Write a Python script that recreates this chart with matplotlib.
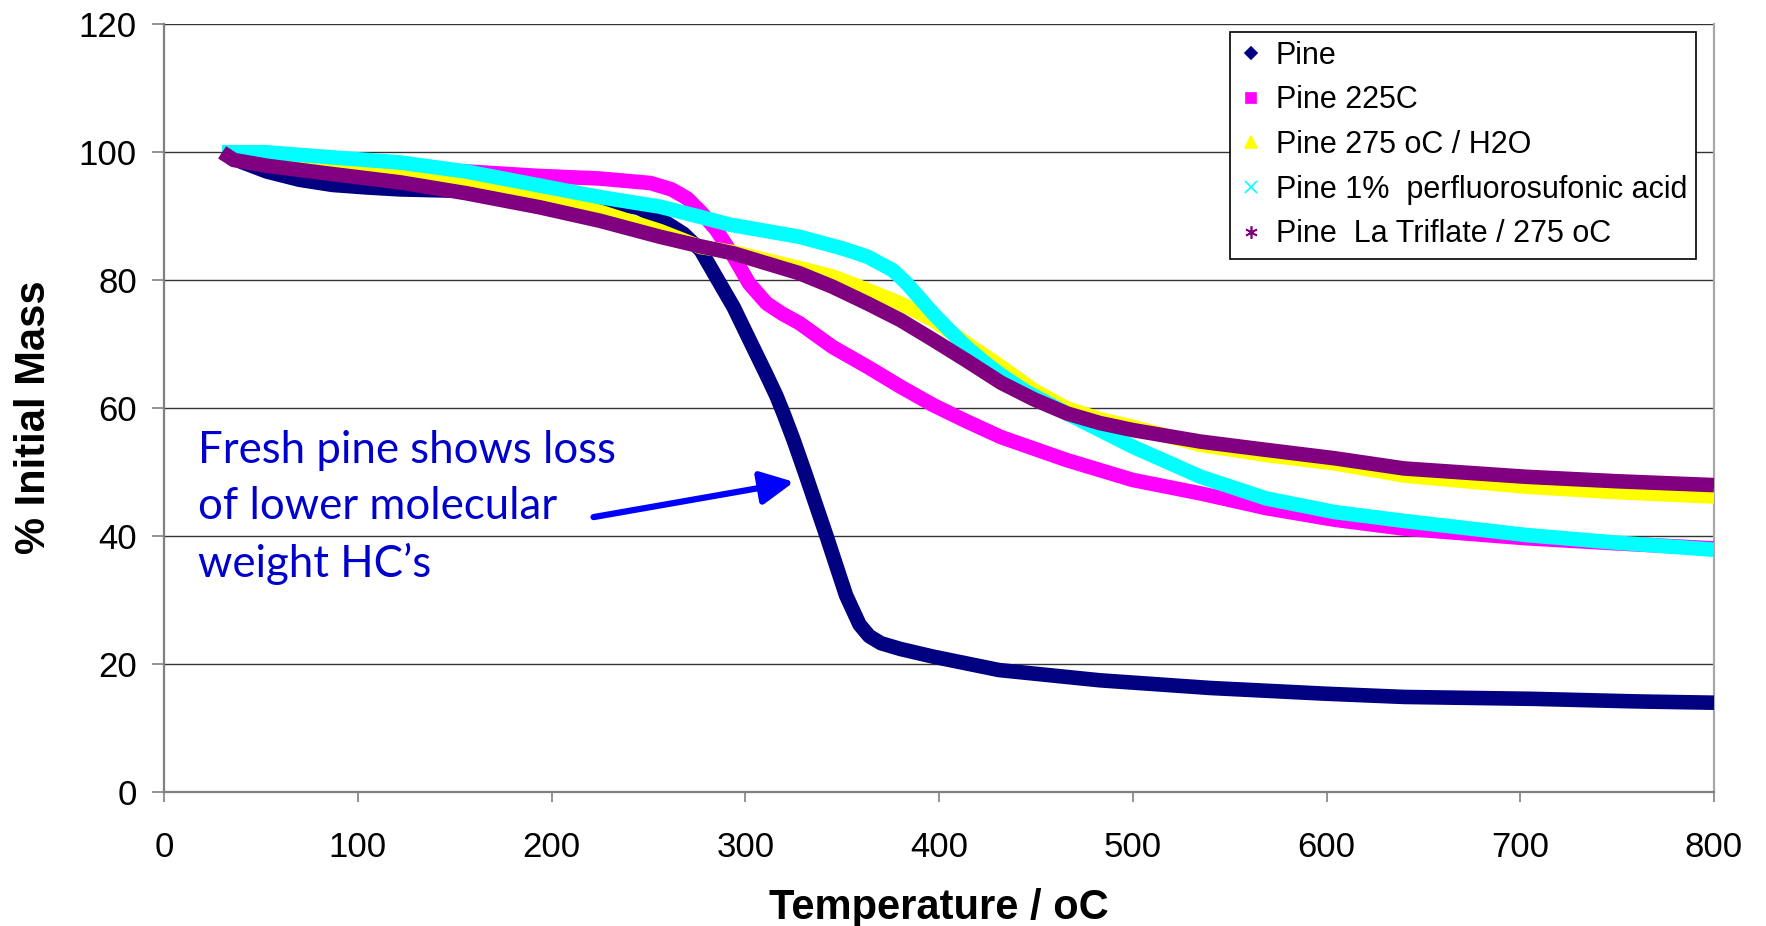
import matplotlib
matplotlib.use("Agg")
import matplotlib.pyplot as plt
from matplotlib.lines import Line2D

plt.rcParams['font.family'] = ['Liberation Sans', 'DejaVu Sans']

# ---------------- data ----------------
pine_t = [30, 40, 53, 70, 87, 105, 122, 150, 194, 225, 245, 256, 268, 277, 285,
          294, 302, 311, 316, 320, 325, 331, 342, 352, 359, 364, 370, 380, 397,
          431, 483, 540, 600, 640, 707, 760, 800]
pine_m = [100, 98.5, 97.0, 95.7, 94.9, 94.5, 94.2, 94.0, 93.5, 92.5, 91.3, 89.6,
          87.3, 84.7, 80.5, 75.8, 70.8, 65.2, 62.0, 59.0, 55.0, 49.8, 40.0, 30.8,
          26.2, 24.4, 23.3, 22.4, 21.2, 19.1, 17.5, 16.3, 15.4, 14.9, 14.6, 14.2,
          14.0]

p225_t = [30, 60, 100, 140, 167, 194, 225, 251, 262, 270, 277, 285, 294, 302,
          311, 319, 328, 345, 363, 380, 397, 414, 432, 466, 500, 535, 569, 604,
          640, 703, 750, 800]
p225_m = [100, 99.3, 98.3, 97.3, 96.8, 96.3, 95.9, 95.2, 94.2, 92.8, 90.7, 87.9,
          83.7, 79.5, 76.4, 74.8, 73.3, 69.6, 66.5, 63.4, 60.5, 58.0, 55.5, 51.9,
          48.8, 46.7, 44.4, 42.6, 41.2, 39.7, 38.9, 38.1]

p275_t = [30, 53, 87, 122, 156, 194, 225, 256, 277, 294, 328, 345, 363, 380,
          397, 414, 432, 449, 466, 483, 500, 535, 569, 604, 640, 703, 750, 800]
p275_m = [100, 98.9, 98.1, 97.1, 95.4, 93.0, 90.7, 87.7, 85.2, 84.4, 81.9, 80.6,
          78.5, 76.4, 73.8, 70.2, 66.5, 62.8, 60.0, 58.3, 57.1, 54.3, 52.7, 51.4,
          49.5, 47.75, 46.9, 46.2]

pfsa_t = [30, 53, 87, 122, 156, 194, 225, 256, 277, 292, 328, 350, 363, 371,
          376, 380, 384, 388, 397, 406, 414, 423, 432, 445, 466, 500, 535, 569,
          604, 640, 703, 750, 800]
pfsa_m = [100, 100.0, 99.2, 98.4, 97.0, 94.8, 93.0, 91.5, 89.9, 88.7, 86.8, 85.0,
          83.7, 82.4, 81.6, 80.5, 79.3, 77.9, 74.8, 72.0, 69.6, 67.3, 65.2, 62.6,
          59.2, 54.0, 49.3, 45.9, 43.8, 42.4, 40.2, 39.0, 37.9]

latf_t = [30, 36, 53, 87, 122, 156, 194, 225, 256, 277, 294, 328, 345, 363, 380,
          397, 414, 432, 449, 466, 483, 500, 535, 569, 604, 640, 703, 750, 800]
latf_m = [100, 98.8, 97.9, 96.6, 95.3, 93.6, 91.4, 89.3, 86.8, 85.3, 84.2, 81.1,
          79.0, 76.4, 73.8, 70.7, 67.5, 64.0, 61.4, 59.2, 57.7, 56.6, 54.8, 53.5,
          52.2, 50.6, 49.3, 48.6, 48.0]

series_labels = ["Pine", "Pine 225C", "Pine 275 oC / H2O",
                 "Pine 1%  perfluorosufonic acid", "Pine  La Triflate / 275 oC"]
x_ticks = [0, 100, 200, 300, 400, 500, 600, 700, 800]
y_ticks = [0, 20, 40, 60, 80, 100, 120]

# ---------------- styles ----------------
colors = ["#000080", "#FF00FF", "#FFFF00", "#00FFFF", "#800080"]
markers = ["D", "s", "^", "x", (6, 2, 0)]
msizes = [6, 7, 8, 8, 9]

W, H, DPI = 1766, 926, 100
fig = plt.figure(figsize=(W / DPI, H / DPI), dpi=DPI)
left, right, top, bottom = 164, 1714, 24.3, 792.3
ax = fig.add_axes([left / W, 1 - bottom / H, (right - left) / W, (bottom - top) / H])

data = [(pine_t, pine_m), (p225_t, p225_m), (p275_t, p275_m),
        (pfsa_t, pfsa_m), (latf_t, latf_m)]
for (t, m), c in zip(data, colors):
    ax.plot(t, m, color=c, lw=10.5, solid_capstyle='butt',
            solid_joinstyle='round', zorder=3)

ax.set_xlim(0, 800)
ax.set_ylim(0, 120)
ax.set_xticks(x_ticks)
ax.set_yticks(y_ticks)
ax.set_xticklabels([str(v) for v in x_ticks])
ax.set_yticklabels([str(v) for v in y_ticks])
ax.yaxis.grid(True, color='#333333', lw=1.0, zorder=1)
ax.set_axisbelow(True)

ax.spines['top'].set_visible(False)
ax.spines['left'].set_color('#808080')
ax.spines['left'].set_linewidth(1.6)
ax.spines['bottom'].set_color('#808080')
ax.spines['bottom'].set_linewidth(1.6)
ax.spines['right'].set_color('#A8A8A8')
ax.spines['right'].set_linewidth(1.6)

ax.tick_params(axis='y', direction='out', length=8.5, width=1.2, color='#808080',
               labelsize=25, pad=11)
ax.tick_params(axis='x', direction='out', length=7, width=1.2, color='#808080',
               labelsize=25, pad=21)

ax.set_xlabel("Temperature / oC", fontsize=30, fontweight='bold')
ax.xaxis.set_label_coords(0.5, -0.124)
ax.set_ylabel("% Initial Mass", fontsize=30, fontweight='bold')
ax.yaxis.set_label_coords(-0.071, 0.489)

handles = [Line2D([], [], ls='none', marker=mk, color=c, markersize=ms,
                  markeredgewidth=1.2)
           for mk, c, ms in zip(markers, colors, msizes)]
leg = ax.legend(handles, series_labels, loc='upper left',
                bbox_to_anchor=((1230 - left) / (right - left),
                                (bottom - 31.5) / (bottom - top)),
                borderaxespad=0, fontsize=22, frameon=True, fancybox=False,
                edgecolor='black', framealpha=1, handlelength=0.8,
                handletextpad=0.4, labelspacing=0.48, borderpad=0.3)
leg.get_frame().set_linewidth(1.2)

# ---------------- annotation ----------------
ann_text = "Fresh pine shows loss\nof lower molecular\nweight HC\u2019s"
txt = ax.text(17.5, 33.7, ann_text, color='#0000CC', fontsize=30,
              family=['Lato', 'DejaVu Sans'], ha='left', va='baseline',
              linespacing=1.45, zorder=5)
fig.canvas.draw()
first = ax.text(0, 0, "Fresh pine shows loss", fontsize=30,
                family=['Lato', 'DejaVu Sans'])
wpx = first.get_window_extent(fig.canvas.get_renderer()).width
first.remove()
txt.set_fontsize(30 * 418 / wpx)

ax.annotate('', xy=(325.2, 48.5), xytext=(221.7, 43.0),
            arrowprops=dict(arrowstyle='-|>,head_length=1.0,head_width=0.5',
                            mutation_scale=20, lw=4.5, color='#0000FF',
                            shrinkA=0, shrinkB=0), zorder=5)

fig.savefig("out.png", dpi=DPI)
